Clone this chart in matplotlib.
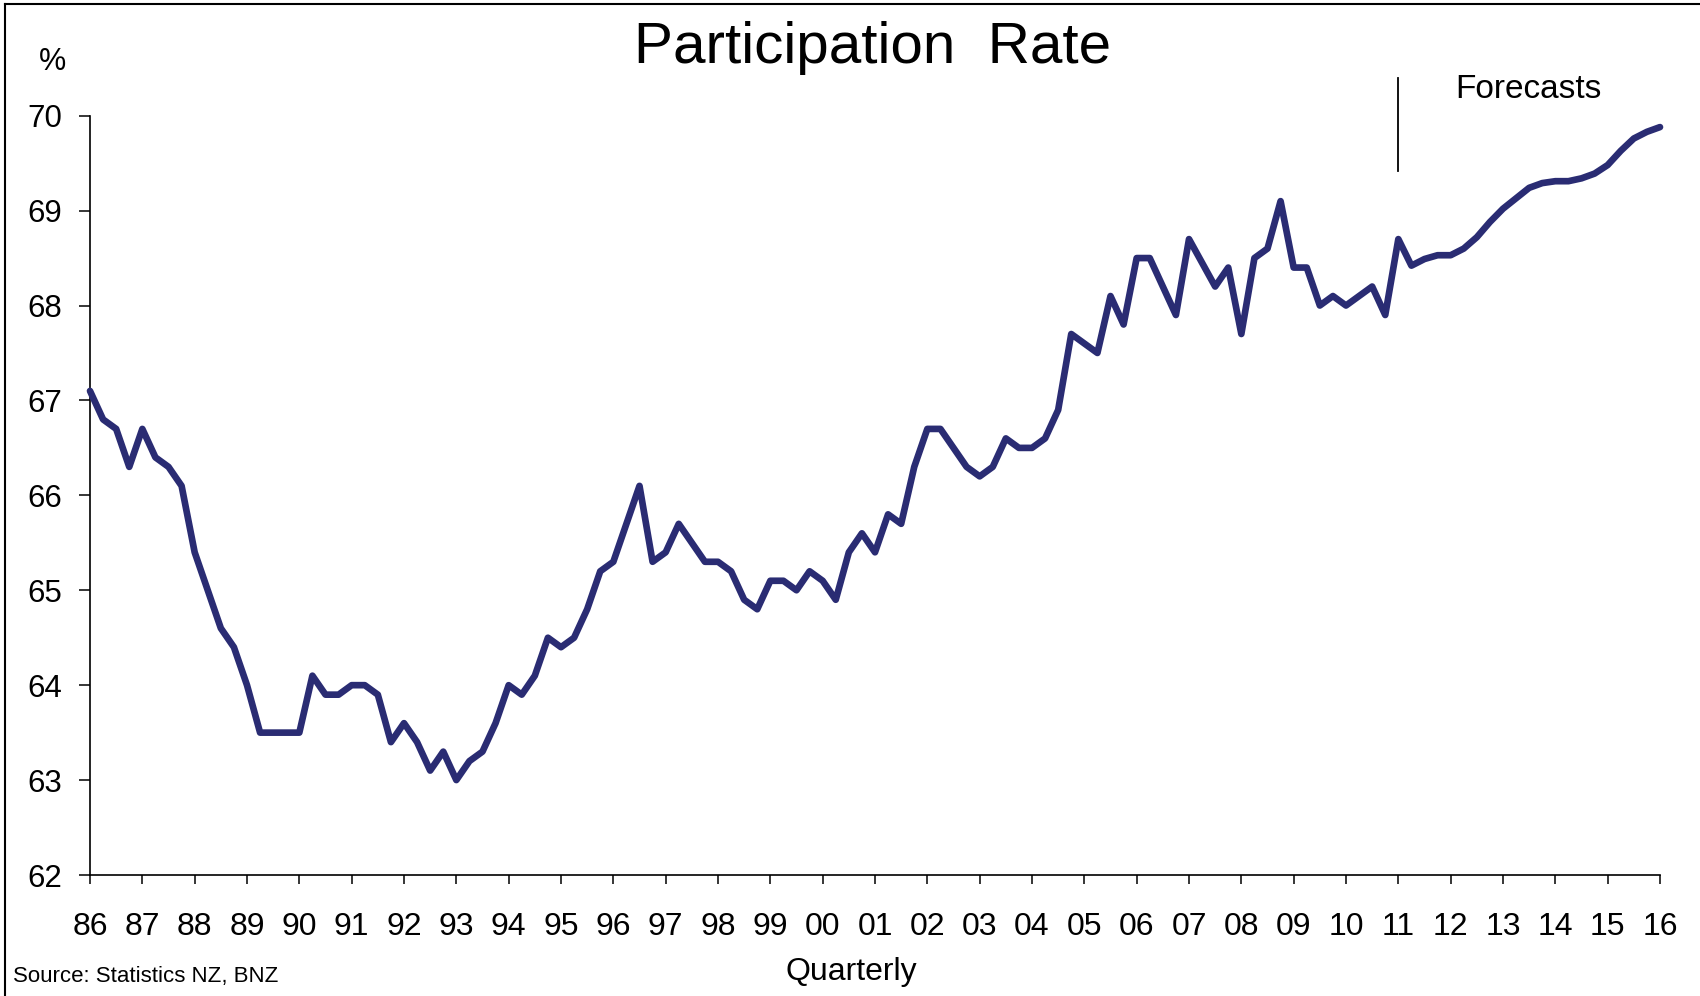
import matplotlib
matplotlib.use("Agg")
import matplotlib.pyplot as plt
from matplotlib.lines import Line2D

plt.rcParams['font.family'] = ['Liberation Sans', 'DejaVu Sans']

# ---- data ----
year_labels = ['86', '87', '88', '89', '90', '91', '92', '93', '94', '95', '96',
               '97', '98', '99', '00', '01', '02', '03', '04', '05', '06', '07',
               '08', '09', '10', '11', '12', '13', '14', '15', '16']
participation = [
    67.1, 66.8, 66.7, 66.3, 66.7, 66.4, 66.3, 66.1, 65.4, 65.0,
    64.6, 64.4, 64.0, 63.5, 63.5, 63.5, 63.5, 64.1, 63.9, 63.9,
    64.0, 64.0, 63.9, 63.4, 63.6, 63.4, 63.1, 63.3, 63.0, 63.2,
    63.3, 63.6, 64.0, 63.9, 64.1, 64.5, 64.4, 64.5, 64.8, 65.2,
    65.3, 65.7, 66.1, 65.3, 65.4, 65.7, 65.5, 65.3, 65.3, 65.2,
    64.9, 64.8, 65.1, 65.1, 65.0, 65.2, 65.1, 64.9, 65.4, 65.6,
    65.4, 65.8, 65.7, 66.3, 66.7, 66.7, 66.5, 66.3, 66.2, 66.3,
    66.6, 66.5, 66.5, 66.6, 66.9, 67.7, 67.6, 67.5, 68.1, 67.8,
    68.5, 68.5, 68.2, 67.9, 68.7, 68.45, 68.2, 68.4, 67.7, 68.5,
    68.6, 69.1, 68.4, 68.4, 68.0, 68.1, 68.0, 68.1, 68.2, 67.9,
    68.7, 68.42, 68.49, 68.53, 68.53, 68.6, 68.72, 68.88, 69.02, 69.13,
    69.24, 69.29, 69.31, 69.31, 69.34, 69.39, 69.48, 69.63, 69.76, 69.83,
    69.88,
]
forecast_start = 100          # 2011 Q1
y_ticks = [62, 63, 64, 65, 66, 67, 68, 69, 70]

# ---- figure ----
W, H = 1700, 996
fig = plt.figure(figsize=(W / 100, H / 100), dpi=100)
ax = fig.add_axes([90 / W, 1 - 875 / H, (1660 - 90) / W, (875 - 115.7) / H])

x = list(range(len(participation)))
ax.plot(x, participation, color='#2a2c73', lw=4.8, solid_joinstyle='round',
        solid_capstyle='round', clip_on=False, zorder=3)

ax.set_xlim(0, 120)
ax.set_ylim(62, 70)
ax.set_xticks(list(range(0, 4 * len(year_labels), 4)))
ax.set_xticklabels(year_labels)
ax.set_yticks(y_ticks)
ax.set_yticklabels([str(v) for v in y_ticks])

for s in ['top', 'right']:
    ax.spines[s].set_visible(False)
for s in ['left', 'bottom']:
    ax.spines[s].set_linewidth(1.2)
    ax.spines[s].set_color('black')

ax.tick_params(axis='y', direction='out', length=8, width=1.1, labelsize=22.5, pad=12)
ax.tick_params(axis='x', direction='out', length=6.5, width=1.1, labelsize=23, pad=20)

# forecast marker
ax.plot([forecast_start, forecast_start], [69.42, 70.4], color='black', lw=1.3,
        clip_on=False)

# texts
fig.text(873 / W, 1 - 63.3 / H, 'Participation  Rate', ha='center', va='baseline',
         fontsize=42)
fig.text(1455 / W, 1 - 98.3 / H, 'Forecasts', ha='left', va='baseline', fontsize=24)
fig.text(52 / W, 1 - 70 / H, '%', ha='center', va='baseline', fontsize=22)
fig.text(851 / W, 1 - 980 / H, 'Quarterly', ha='center', va='baseline', fontsize=23)
fig.text(13 / W, 1 - 981.7 / H, 'Source: Statistics NZ, BNZ', ha='left',
         va='baseline', fontsize=16)

# figure frame (top and left edges)
fig.add_artist(Line2D([5 / W, 5 / W], [0, 1 - 4 / H], transform=fig.transFigure,
                      color='black', lw=1.5))
fig.add_artist(Line2D([5 / W, 1], [1 - 4 / H, 1 - 4 / H], transform=fig.transFigure,
                      color='black', lw=1.5))

fig.savefig('out.png', dpi=100)
